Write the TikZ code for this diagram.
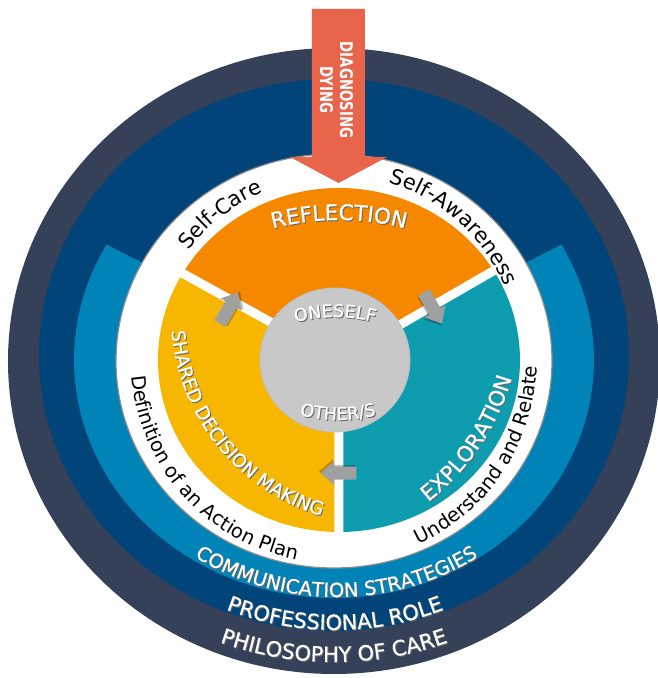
\documentclass[tikz,border=0pt]{standalone}
\usepackage{fontspec}
\setmainfont{DejaVu Sans}
\setsansfont{DejaVu Sans}
\newfontfamily\wfont[FakeBold=0.6]{DejaVu Sans}
\usetikzlibrary{decorations.text}
\definecolor{darkslate}{RGB}{52,65,88}
\definecolor{navyblue}{RGB}{0,68,122}
\definecolor{midblue}{RGB}{0,132,184}
\definecolor{orangeseg}{RGB}{246,136,0}
\definecolor{yellowseg}{RGB}{247,183,0}
\definecolor{tealseg}{RGB}{14,157,174}
\definecolor{grayc}{RGB}{200,200,200}
\definecolor{arrowgray}{RGB}{160,160,160}
\definecolor{salmon}{RGB}{232,100,74}
\newcommand{\wtext}[4]{%
  \path[shift={#3}, shift={(1,-1)}, decorate, decoration={text along path, text={|\wfont\fontsize{#1}{#1}\selectfont|#2}, text align=center, text color=black!60}] #4;
  \path[shift={#3}, decorate, decoration={text along path, text={|\wfont\fontsize{#1}{#1}\selectfont|#2}, text align=center, text color=white}] #4;}
\newcommand{\btext}[4]{%
  \path[shift={#3}, decorate, decoration={text along path, text={|\fontsize{#1}{#1}\selectfont|#2}, text align=center, text color=black}] #4;}
\tikzset{
  garrow/.pic={
    \fill[black, opacity=.25] (-16.5,-8) -- (5.5,-8) -- (5.5,-13.5) -- (19.5,-1.5) -- (5.5,10.5) -- (5.5,5) -- (-16.5,5) -- cycle;
    \fill[arrowgray] (-18,-6.5) -- (4,-6.5) -- (4,-12) -- (18,0) -- (4,12) -- (4,6.5) -- (-18,6.5) -- cycle;
  }
}
\begin{document}
\begin{tikzpicture}[x=1pt,y=1pt]
\useasboundingbox (-334,-318) rectangle (323,360);
\fill[white] (-334,-318) rectangle (323,360);
% rings
\fill[darkslate] (0,-1) ellipse[x radius=326pt, y radius=313pt];
\fill[navyblue] (0,5) ellipse[x radius=295pt, y radius=276pt];
\fill[midblue] (0,0) -- (151:260pt and 238pt) arc[start angle=151, end angle=389, x radius=260pt, y radius=238pt] -- cycle;
\filldraw[fill=white, draw=black!45, line width=1.2pt] (0,-1) ellipse[x radius=218pt, y radius=207pt];
% segments
\begin{scope}[shift={(5,0)}]
  \fill[orangeseg] (0,0) -- (30:181pt and 172pt) arc[start angle=30, end angle=150, x radius=181pt, y radius=172pt] -- cycle;
  \fill[yellowseg] (0,0) -- (150:181pt and 172pt) arc[start angle=150, end angle=270, x radius=181pt, y radius=172pt] -- cycle;
  \fill[tealseg] (0,0) -- (270:181pt and 172pt) arc[start angle=270, end angle=390, x radius=181pt, y radius=172pt] -- cycle;
  \draw[white, line width=9pt] (0,0) -- (151:200pt) (0,0) -- (30:200pt) (0,0) -- (270:195pt);
\end{scope}
\filldraw[fill=grayc, draw=black!25, line width=0.8pt] (1,0) ellipse[x radius=75pt, y radius=72pt];
% small arrows
\pic (a1) [rotate=60] at (-105,52) {garrow};
\pic (a2) [rotate=-60] at (99,52) {garrow};
\pic (a3) [rotate=180] at (4.5,-113) {garrow};
% big arrow
\fill[salmon] (-22,351) -- (31,351) -- (31,203) -- (53,203) -- (4.5,177) -- (-44,203) -- (-22,203) -- cycle;
\node[rotate=-90, text=white, font=\bfseries\fontsize{17.5}{20}\selectfont, align=center, inner sep=0pt] (dd) at (2.5,270) {\scalebox{0.76}[1]{DIAGNOSING}\\\scalebox{0.76}[1]{DYING}};
% segment texts
\wtext{21.5}{REFLECTION}{(5,-120)}{(120:260pt) arc[start angle=120, end angle=60, radius=260pt]}
\wtext{18.5}{SHARED DECISION MAKING}{(47,45.5)}{(159:210pt) arc[start angle=159, end angle=279, radius=210pt]}
\wtext{21.5}{EXPLORATION}{(-53,47.5)}{(-84:240pt) arc[start angle=-84, end angle=16, radius=240pt]}
\wtext{17.5}{ONESELF}{(1,-107)}{(115:150pt) arc[start angle=115, end angle=65, radius=150pt]}
\wtext{17.5}{OTHER/S}{(4,90)}{(245:150pt) arc[start angle=245, end angle=295, radius=150pt]}
% ring texts
\wtext{19.5}{COMMUNICATION STRATEGIES}{(2.5,33)}{(220:270pt) arc[start angle=220, end angle=320, radius=270pt]}
\wtext{21}{PROFESSIONAL ROLE}{(1,30)}{(235:300pt) arc[start angle=235, end angle=305, radius=300pt]}
\wtext{21}{PHILOSOPHY OF CARE}{(0,38)}{(240:340pt) arc[start angle=240, end angle=300, radius=340pt]}
% white ring texts
\btext{21}{Self-Care}{(0,0)}{(168:182pt) arc[start angle=168, end angle=88, radius=182pt]}
\btext{21}{Self-Awareness}{(0,0)}{(95:186pt) arc[start angle=95, end angle=1, radius=186pt]}
\btext{19.5}{Understand and Relate}{(0,0)}{(-88:203pt) arc[start angle=-88, end angle=21, radius=203pt]}
\btext{19.5}{Definition of an Action Plan}{(0,0)}{(160:203pt) arc[start angle=160, end angle=284, radius=203pt]}
\end{tikzpicture}
\end{document}
